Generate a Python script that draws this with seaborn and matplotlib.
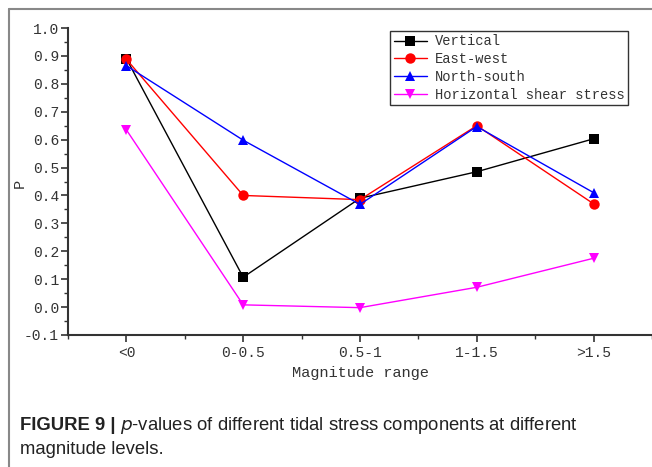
import matplotlib
matplotlib.use("Agg")
import matplotlib.pyplot as plt
import seaborn as sns
import pandas as pd
from matplotlib.lines import Line2D
from matplotlib.ticker import MultipleLocator

categories = ["<0", "0-0.5", "0.5-1", "1-1.5", ">1.5"]
vertical = [0.89, 0.107, 0.39, 0.485, 0.603]
east_west = [0.888, 0.40, 0.385, 0.65, 0.37]
north_south = [0.865, 0.598, 0.368, 0.647, 0.41]
horizontal_shear = [0.635, 0.008, -0.002, 0.071, 0.175]

series_names = ["Vertical", "East-west", "North-south", "Horizontal shear stress"]
series_values = [vertical, east_west, north_south, horizontal_shear]
colors = ["#000000", "#ff0000", "#0000ff", "#ff00ff"]
markers = ["s", "o", "^", "v"]

rows = []
for name, vals in zip(series_names, series_values):
    for i, (c, v) in enumerate(zip(categories, vals)):
        rows.append({"pos": i, "cat": c, "P": v, "series": name})
df = pd.DataFrame(rows)

sns.set_style("ticks")
mono = "Liberation Mono"
txtc = "#333333"

fig = plt.figure(figsize=(6.52, 4.67), dpi=100)
ax = fig.add_axes([68/652, 1-335/467, (652-68)/652, (335-28)/467])

sns.lineplot(data=df, x="pos", y="P", hue="series", style="series",
             hue_order=series_names, style_order=series_names,
             palette=dict(zip(series_names, colors)),
             markers=dict(zip(series_names, markers)), dashes=False,
             markersize=7.5, markeredgewidth=0, linewidth=1.0, ax=ax, legend=False)

ax.set_xlim(-0.5, 4.5)
ax.set_ylim(-0.1, 1.0)
ax.set_xticks(range(len(categories)))
ax.set_xticklabels(categories, fontfamily=mono, fontsize=10.5, color=txtc)
ax.xaxis.set_minor_locator(MultipleLocator(0.5))
ax.yaxis.set_major_locator(MultipleLocator(0.1))
ax.yaxis.set_minor_locator(MultipleLocator(0.05))
ax.set_yticklabels([f"{t:.1f}" for t in ax.get_yticks()], fontfamily=mono, fontsize=10.5, color=txtc)
ax.tick_params(axis="both", which="major", direction="out", length=5, width=1.2, color=txtc)
ax.tick_params(axis="both", which="minor", direction="out", length=3, width=1.0, color=txtc)
ax.tick_params(axis="x", which="major", pad=3)
ax.tick_params(axis="y", which="major", pad=1.5)
for s in ["top", "right"]:
    ax.spines[s].set_visible(False)
for s in ["left", "bottom"]:
    ax.spines[s].set_linewidth(1.5)
    ax.spines[s].set_color(txtc)
ax.set_xlabel("Magnitude range", fontfamily=mono, fontsize=11, color=txtc)
ax.xaxis.set_label_coords(0.5, 1-((366-28)/(335-28)), transform=ax.transAxes)
ax.set_ylabel("P", fontfamily=mono, fontsize=11, color=txtc)
ax.yaxis.set_label_coords((27-68)/(652-68), (335-183)/(335-28), transform=ax.transAxes)

handles = [Line2D([0], [0], color=c, marker=m, markersize=7.5, markeredgewidth=0, lw=1.0)
           for c, m in zip(colors, markers)]
leg = ax.legend(handles, series_names, loc="upper right", bbox_to_anchor=(628/652, 1-31/467),
                bbox_transform=fig.transFigure, prop={"family": mono, "size": 9.9},
                frameon=True, fancybox=False, framealpha=1, edgecolor=txtc,
                borderpad=0.25, labelspacing=0.28, handlelength=2.4, handletextpad=0.6,
                borderaxespad=0)
leg.get_frame().set_linewidth(1.0)
for t in leg.get_texts():
    t.set_color(txtc)

# panel frame lines
fig.add_artist(Line2D([9/652, 1], [1-9/467, 1-9/467], color="#888888", lw=1.5, transform=fig.transFigure))
fig.add_artist(Line2D([9/652, 9/652], [0, 1-9/467], color="#888888", lw=1.5, transform=fig.transFigure))

cap_font = "Liberation Sans"
cs = 13.3
t1 = fig.text(20/652, 1-426/467, "FIGURE 9 |", fontfamily=cap_font, fontweight="bold", fontsize=cs,
              va="center", ha="left", color="#222222")
fig.canvas.draw()
bb = t1.get_window_extent()
fig.text((bb.x1 + 5)/652, 1-426/467, r"$\it{p}$-values of different tidal stress components at different",
         fontfamily=cap_font, fontsize=cs, va="center", ha="left", color="#222222")
fig.text(20/652, 1-449/467, "magnitude levels.", fontfamily=cap_font, fontsize=cs,
         va="center", ha="left", color="#222222")

fig.savefig("out.png", dpi=100)
